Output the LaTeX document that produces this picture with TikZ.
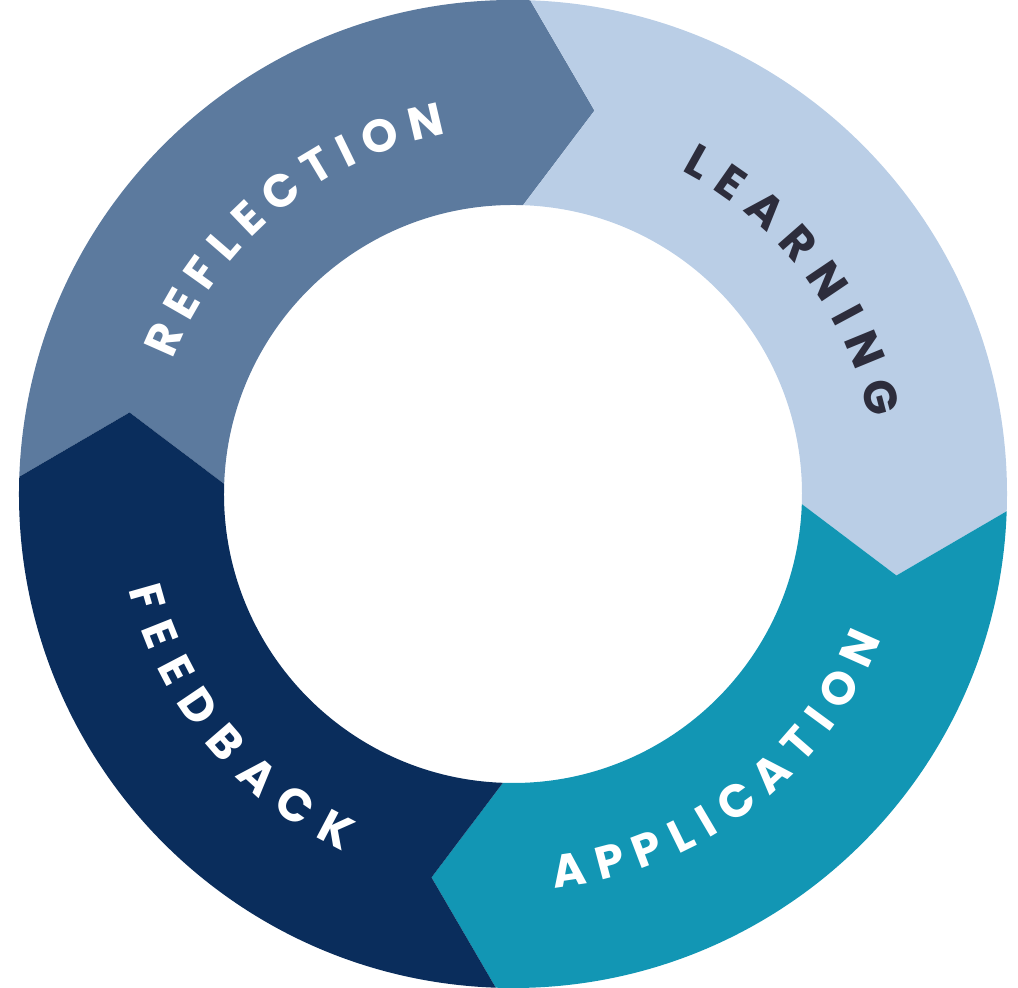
\documentclass[tikz,border=0pt]{standalone}
\usepackage{fontspec}
\setmainfont{Poppins}
\usepackage{tikz}
\usetikzlibrary{decorations.text}

\definecolor{reflection}{RGB}{92,122,158}
\definecolor{learning}{RGB}{186,206,230}
\definecolor{application}{RGB}{18,150,180}
\definecolor{feedback}{RGB}{10,45,92}
\definecolor{darkletter}{RGB}{45,45,60}

\def\Ro{494}
\def\Ri{289}
\def\Rm{392}

\begin{document}
\begin{tikzpicture}
[x=0.5pt, y=0.5pt,
label top/.style={decorate, decoration={text along path, text align=fit to path,
  text={|\fontsize{23}{26}\selectfont\bfseries|#1}}},
label bottom/.style={decorate, decoration={text along path, text align=fit to path,
  text={|\fontsize{23}{26}\selectfont\bfseries|#1}}}
]
  \useasboundingbox (-513,-494) rectangle (505,494);

  % the four arrow segments of the ring
  \foreach \b/\col in {178/reflection, 88/learning, -2/application, -92/feedback}
  {
    \pgfmathsetmacro{\f}{\b-90}
    \pgfmathsetmacro{\tip}{\b-100}
    \pgfmathsetmacro{\notch}{\b-10}
    \fill[\col] (\b:\Ro) arc[start angle=\b, end angle=\f, radius=\Ro]
      -- (\tip:\Rm) -- (\f:\Ri)
      arc[start angle=\f, end angle=\b, radius=\Ri]
      -- (\notch:\Rm) -- cycle;
  }

  % labels along the ring
  \path[label top=REFLECTION, decoration={text color=white}]
    (158.5:366) arc[start angle=158.5, end angle=100.5, radius=366];
  \path[label top=LEARNING, decoration={text color=darkletter}]
    (62.5:364) arc[start angle=62.5, end angle=12, radius=364];
  \path[label bottom=APPLICATION, decoration={text color=white}]
    (-84:396) arc[start angle=-84, end angle=-21.5, radius=396];
  \path[label bottom=FEEDBACK, decoration={text color=white}]
    (194:396) arc[start angle=194, end angle=244.5, radius=396];
\end{tikzpicture}
\end{document}
